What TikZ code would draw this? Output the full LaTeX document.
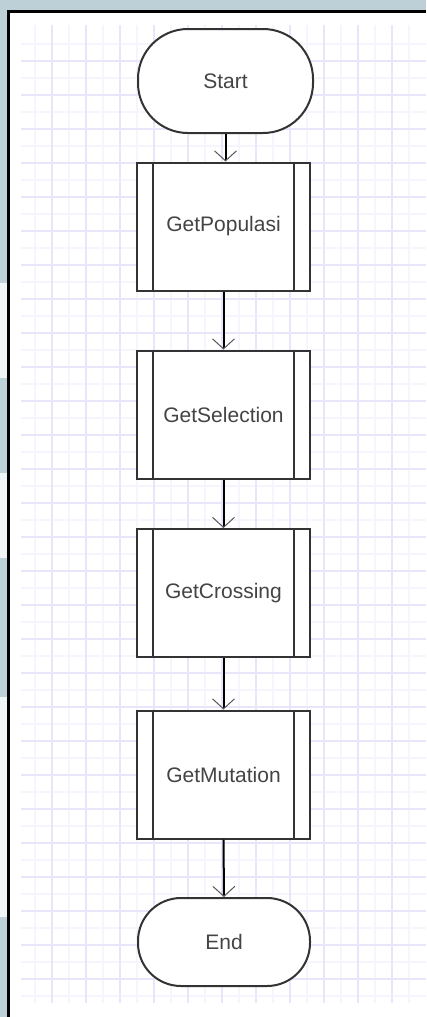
\documentclass[tikz,border=0pt]{standalone}
\usepackage{fontspec}
\setmainfont{Liberation Sans}
\usetikzlibrary{arrows.meta}
\definecolor{frame}{RGB}{190,208,215}
\definecolor{framelight}{RGB}{239,244,246}
\definecolor{gridmajor}{RGB}{232,230,251}
\definecolor{gridminor}{RGB}{246,245,253}
\definecolor{boxline}{RGB}{51,51,51}
\definecolor{labeltext}{RGB}{68,68,68}
\begin{document}
\begin{tikzpicture}[x=1pt, y=-1pt,
  terminal/.style={draw=boxline, line width=2pt, fill=white, inner sep=0pt,
    font=\fontsize{21}{23}\selectfont, text=labeltext},
  process/.style={terminal, minimum width=173pt, minimum height=128pt},
  flow/.style={line width=2pt,
    -{Straight Barb[length=10pt, width=22pt, line width=1pt, color=black!65]}}]
\useasboundingbox (0,0) rectangle (426,1017);
% window edge round the sheet
\fill[frame] (0,0) rectangle (426,11);
\fill[frame] (0,0) rectangle (9,1017);
\fill[framelight] (0,283) rectangle (7,378);
\fill[framelight] (0,473) rectangle (7,558);
\fill[framelight] (0,697) rectangle (7,917);
\fill[white] (9,11) rectangle (426,1017);
% grid paper
\begin{scope}
\clip (21,25) rectangle (426,1003);
\foreach \x in {35,69,...,409} \draw[gridminor, line width=1.5pt] (\x,25) -- (\x,1003);
\foreach \y in {44,78,...,996} \draw[gridminor, line width=1.5pt] (21,\y) -- (426,\y);
\foreach \x in {52,86,...,392} \draw[gridmajor, line width=1.8pt] (\x,25) -- (\x,1003);
\foreach \y in {61,95,...,979} \draw[gridmajor, line width=1.8pt] (21,\y) -- (426,\y);
\end{scope}
\draw[line width=2.6pt] (8.6,1017) -- (8.6,11.2) -- (426,11.2);
% flowchart
\node[terminal, minimum width=175pt, minimum height=104pt, rounded corners=50pt] (start) at (225.5,81) {Start};
\node[process] (pop) at (223.5,226.5) {GetPopulasi};
\node[process] (sel) at (223.5,414.5) {GetSelection};
\node[process] (cross) at (223.5,593) {GetCrossing};
\node[process] (mut) at (223.5,774.5) {GetMutation};
\node[terminal, minimum width=172pt, minimum height=88pt, rounded corners=43pt] (end) at (224,942) {End};
\foreach \n in {pop,sel,cross,mut} {
  \draw[boxline, line width=2pt] ([xshift=17pt]\n.north west) -- ([xshift=17pt]\n.south west);
  \draw[boxline, line width=2pt] ([xshift=-17pt]\n.north east) -- ([xshift=-17pt]\n.south east);
}
\draw[flow] (start.south) -- (start.south |- pop.north);
\draw[flow] (pop.south) -- (sel.north);
\draw[flow] (sel.south) -- (cross.north);
\draw[flow] (cross.south) -- (mut.north);
\draw[flow] (mut.south) -- (end.north);
\end{tikzpicture}
\end{document}
